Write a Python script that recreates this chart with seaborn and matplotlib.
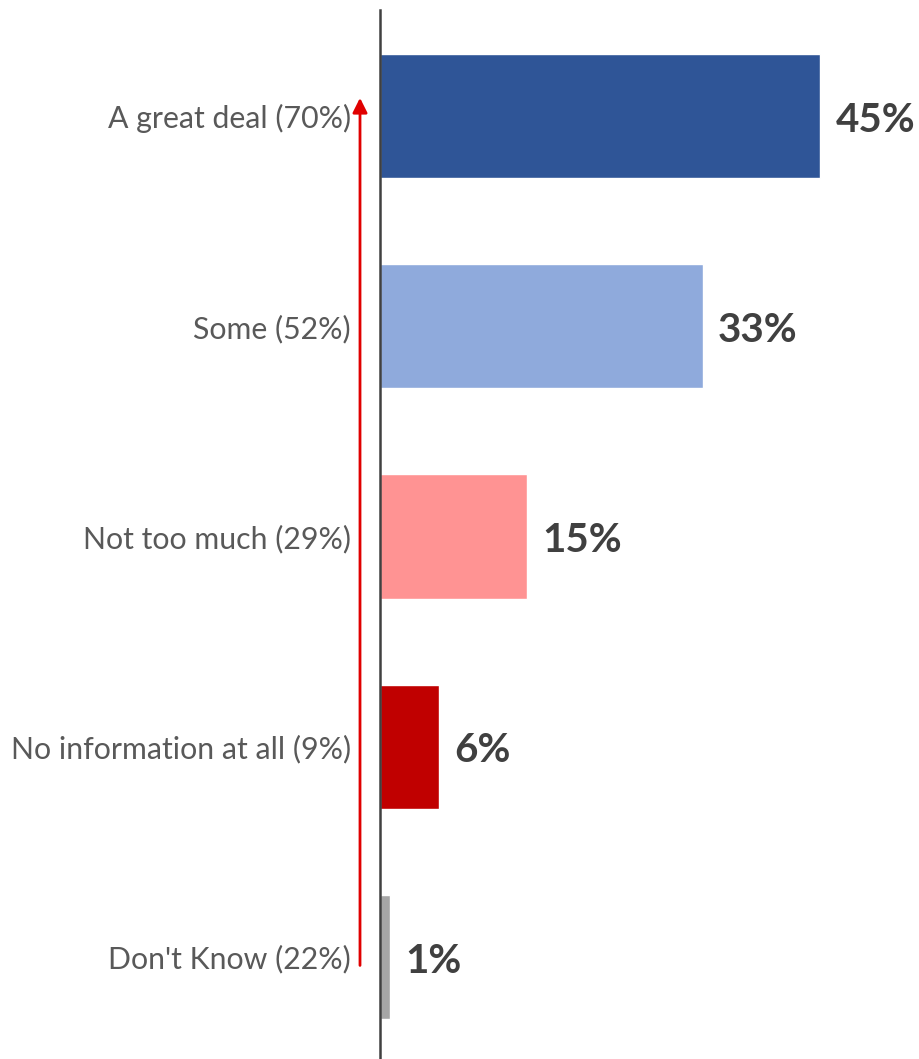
import matplotlib
matplotlib.use("Agg")
import matplotlib.pyplot as plt
import matplotlib.transforms as mtransforms
import seaborn as sns
import pandas as pd

categories = ["A great deal (70%)", "Some (52%)", "Not too much (29%)",
              "No information at all (9%)", "Don't Know (22%)"]
values = [45, 33, 15, 6, 1]
value_labels = ["45%", "33%", "15%", "6%", "1%"]
colors = ["#2F5597", "#8FAADC", "#FF9393", "#C00000", "#A6A6A6"]

df = pd.DataFrame({"category": categories, "value": values})

sns.set_theme(style="white")
plt.rcParams["font.family"] = ["Lato", "DejaVu Sans"]

fig = plt.figure(figsize=(9.19, 10.59), dpi=100)
ax = fig.add_axes([380 / 919, 0.0, 1 - 380 / 919, 1 - 10 / 1059])

sns.barplot(data=df, x="value", y="category", hue="category", palette=colors,
            orient="h", width=0.59, legend=False, ax=ax, saturation=1)

ax.set_xlim(0, 55.1)
ax.set_ylim(4.485, -0.504)
ax.set_xlabel("")
ax.set_ylabel("")
ax.set_xticks([])
for s in ["top", "right", "bottom"]:
    ax.spines[s].set_visible(False)
ax.spines["left"].set_color("#404040")
ax.spines["left"].set_linewidth(1.8)
ax.tick_params(axis="y", length=0, pad=21, labelsize=21.8, labelcolor="#595959")

for i, (v, lab) in enumerate(zip(values, value_labels)):
    ax.annotate(lab, xy=(v, i), xytext=(11, -3), textcoords="offset points",
                ha="left", va="center", fontsize=29, fontweight="bold",
                color="#404040")

trans = mtransforms.blended_transform_factory(ax.transAxes, ax.transData)
xa = (360 - 380) / 539
ax.annotate("", xy=(xa, -0.086), xytext=(xa, 4.04), xycoords=trans,
            textcoords=trans,
            arrowprops=dict(arrowstyle="-|>", color="#E00000", lw=2,
                            mutation_scale=22, shrinkA=0, shrinkB=0),
            annotation_clip=False)

fig.savefig("out.png", dpi=100)
